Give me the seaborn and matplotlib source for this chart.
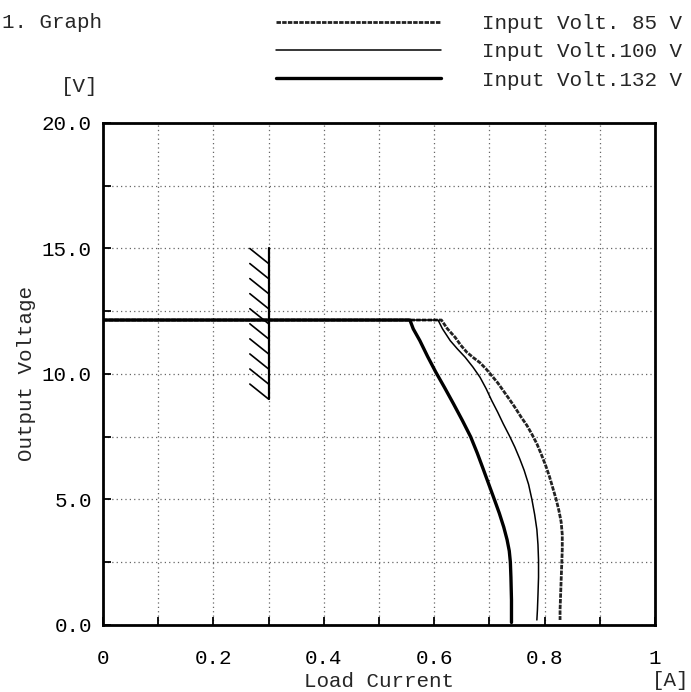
import matplotlib
matplotlib.use("Agg")
import matplotlib.pyplot as plt
import seaborn as sns
from matplotlib.ticker import MultipleLocator

# ---- data ----
x_85 = [0.0, 0.613, 0.624, 0.638, 0.648, 0.659, 0.671, 0.683, 0.694, 0.704, 0.715,
        0.725, 0.736, 0.746, 0.757, 0.768, 0.777, 0.786, 0.794, 0.802, 0.809,
        0.815, 0.821, 0.826, 0.830, 0.832, 0.832, 0.831, 0.830, 0.829, 0.828, 0.828]
y_85 = [12.15, 12.15, 11.80, 11.46, 11.15, 10.87, 10.65, 10.45, 10.20, 9.94, 9.65,
        9.34, 9.00, 8.68, 8.30, 7.95, 7.60, 7.22, 6.80, 6.35, 5.90,
        5.45, 5.00, 4.55, 4.10, 3.60, 3.00, 2.40, 1.80, 1.20, 0.60, 0.20]

x_100 = [0.0, 0.607, 0.615, 0.629, 0.642, 0.656, 0.670, 0.683, 0.694, 0.704, 0.715,
         0.725, 0.736, 0.746, 0.755, 0.763, 0.771, 0.777, 0.782, 0.786, 0.788,
         0.789, 0.789, 0.788, 0.787, 0.786]
y_100 = [12.15, 12.15, 11.80, 11.33, 11.00, 10.67, 10.28, 9.87, 9.42, 8.95, 8.48,
         8.02, 7.55, 7.09, 6.62, 6.16, 5.60, 5.00, 4.40, 3.80, 3.20,
         2.58, 1.90, 1.20, 0.60, 0.20]

x_132 = [0.0, 0.556, 0.562, 0.574, 0.588, 0.603, 0.619, 0.635, 0.651, 0.666, 0.678,
         0.689, 0.699, 0.709, 0.718, 0.726, 0.732, 0.736, 0.738, 0.739, 0.740, 0.740]
y_132 = [12.15, 12.15, 11.80, 11.33, 10.70, 10.07, 9.45, 8.81, 8.15, 7.50, 6.85,
         6.20, 5.60, 5.00, 4.45, 3.90, 3.40, 2.95, 2.50, 1.90, 1.00, 0.10]

labels = ["Input Volt. 85 V", "Input Volt.100 V", "Input Volt.132 V"]

# specification limit marker (hatched bar)
spec_x = [0.3, 0.3]
spec_y = [9.0, 15.0]
hatch_x = [0.266, 0.3]
hatch_top = [15.0, 14.4, 13.8, 13.2, 12.6, 12.0, 11.4, 10.8, 10.2, 9.6]
hatch_drop = 0.6

x_ticks = [0, 0.2, 0.4, 0.6, 0.8, 1.0]
x_ticklabels = ["0", "0.2", "0.4", "0.6", "0.8", "1"]
y_ticks = [0, 5, 10, 15, 20]
y_ticklabels = ["0.0", "5.0", "10.0", "15.0", "20.0"]

# ---- style ----
sns.set_style("ticks")
plt.rcParams["font.family"] = ["Liberation Mono", "DejaVu Sans"]
plt.rcParams["font.size"] = 15

W, H = 691, 692
fig = plt.figure(figsize=(W / 100, H / 100), dpi=100)
ax = fig.add_axes([103 / W, 1 - 625 / H, 552 / W, 502 / H])

styles = [
    dict(color="#222222", linewidth=2.0, linestyle=(0, (1.6, 0.45))),
    dict(color="black", linewidth=1.1),
    dict(color="black", linewidth=2.4),
]
for xs, ys, lab, st in zip([x_85, x_100, x_132], [y_85, y_100, y_132], labels, styles):
    sns.lineplot(x=xs, y=ys, ax=ax, sort=False, estimator=None, label=lab, **st)

sns.lineplot(x=spec_x, y=spec_y, ax=ax, sort=False, estimator=None,
             color="black", linewidth=1.6, legend=False)
for t in hatch_top:
    sns.lineplot(x=hatch_x, y=[t, t - hatch_drop], ax=ax, sort=False,
                 estimator=None, color="black", linewidth=1.2, legend=False)

ax.set_xlim(0, 1)
ax.set_ylim(0, 20)
ax.set_xticks(x_ticks)
ax.set_xticklabels(x_ticklabels)
ax.set_yticks(y_ticks)
ax.set_yticklabels(y_ticklabels)
ax.xaxis.set_minor_locator(MultipleLocator(0.1))
ax.yaxis.set_minor_locator(MultipleLocator(2.5))
ax.tick_params(which="both", direction="in", length=6, width=1.3,
               top=False, right=False, colors="black")
ax.tick_params(axis="x", which="major", pad=17)
ax.tick_params(axis="y", which="major", pad=8)
ax.grid(True, which="both", linestyle=(0, (1, 2.5)), color="#666666", linewidth=0.9)
for s in ax.spines.values():
    s.set_linewidth(2.0)
    s.set_color("black")

ax.set_xlabel("Load Current", labelpad=3)
ax.set_ylabel("Output Voltage", labelpad=4)

handles, labs = ax.get_legend_handles_labels()
leg = ax.legend(handles[:3], labs[:3], loc="upper left",
                bbox_to_anchor=(276 / W, 1 - 14 / H), bbox_transform=fig.transFigure,
                frameon=False, borderpad=0, borderaxespad=0,
                handlelength=7.9, handletextpad=2.0, labelspacing=0.45, fontsize=15)

fig.text(2 / W, 1 - 22 / H, "1. Graph", ha="left", va="center", fontsize=15)
fig.text(80 / W, 1 - 87 / H, "[V]", ha="center", va="center", fontsize=15)
fig.text(689 / W, 1 - 680 / H, "[A]", ha="right", va="center", fontsize=15)

fig.savefig("out.png", dpi=100)
